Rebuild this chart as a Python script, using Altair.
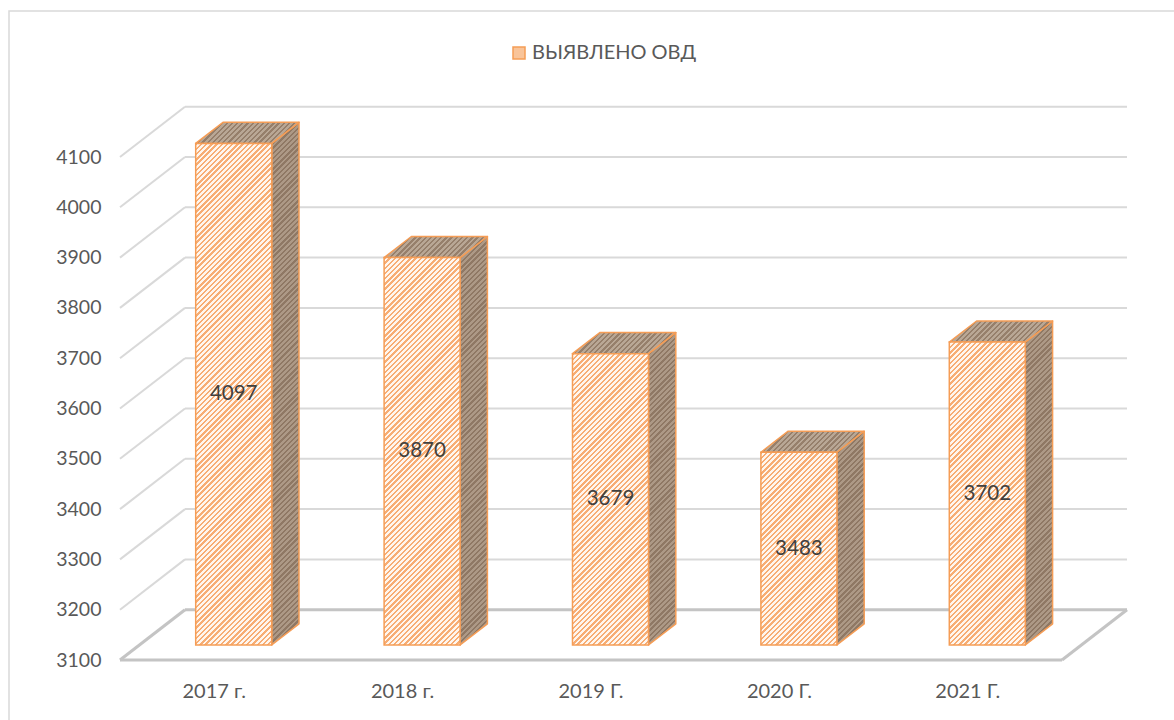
import altair as alt
import pandas as pd

# ---- data ----
categories = ["2017 г.", "2018 г.", "2019 Г.", "2020 Г.", "2021 Г."]
values = [4097, 3870, 3679, 3483, 3702]
tick_values = [3100, 3200, 3300, 3400, 3500, 3600, 3700, 3800, 3900, 4000, 4100]
series_name = "ВЫЯВЛЕНО ОВД"

# ---- layout / 3D geometry (pixels per unit) ----
W, H = 1007, 560
XU = 188.4            # px per category slot
YU = 0.503            # px per value unit
BASE = 3100
XMAX = W / XU
YMAX = BASE + H / YU
DX = 65 / XU          # full depth shift (x units)
DY = 100              # full depth shift (value units)
D0 = 0.3              # depth of bar front face
BD = 0.42             # bar depth
HW = 38 / XU          # half bar width

FONT = "Lato"
TXT = "#595959"
ORANGE = "#f59d56"

xs = alt.Scale(domain=[0, XMAX], nice=False, zero=False)
ys = alt.Scale(domain=[BASE, YMAX], nice=False, zero=False)
yaxis = alt.Axis(values=tick_values, format="d", title=None, grid=False, domain=False,
                 ticks=False, labelPadding=19, labelFont=FONT, labelFontSize=19.5,
                 labelColor=TXT)


def stripes(w, h, fg, bg, period=5.2, frac=0.45):
    n = max(1, int(round((w + h) / period)))
    k = (w + h) / (w * w + h * h)
    stops = []
    for j in range(n):
        a, b, c = j / n, (j + frac) / n, (j + 1) / n
        stops += [{"offset": a, "color": fg}, {"offset": b, "color": fg},
                  {"offset": b, "color": bg}, {"offset": min(c, 1.0), "color": bg}]
    return {"gradient": "linear", "x1": 0, "y1": 0, "x2": w * k, "y2": h * k, "stops": stops}


layers = []

# frame around the chart
frame = alt.Chart(pd.DataFrame({"a": [0]})).mark_rect(
    fill=None, stroke="#d9d9d9", strokeWidth=1.5
).encode(x=alt.value(-111), x2=alt.value(1200), y=alt.value(-89), y2=alt.value(700))
layers.append(frame)

# grid lines (back wall + left side wall)
grid_rows = []
for v in tick_values[1:]:
    grid_rows.append({"x": DX, "x2": XMAX, "y": v + DY, "y2": v + DY})
    grid_rows.append({"x": 0, "x2": DX, "y": v, "y2": v + DY})
grid = alt.Chart(pd.DataFrame(grid_rows)).mark_rule(color="#d9d9d9", strokeWidth=2).encode(
    x=alt.X("x:Q", scale=xs, axis=None), x2="x2:Q",
    y=alt.Y("y:Q", scale=ys, axis=yaxis), y2="y2:Q")
layers.append(grid)

# floor outline
n = len(categories)
floor_rows = [
    {"x": 0, "x2": n, "y": BASE, "y2": BASE},
    {"x": n, "x2": XMAX, "y": BASE, "y2": BASE + DY},
    {"x": DX, "x2": XMAX, "y": BASE + DY, "y2": BASE + DY},
    {"x": 0, "x2": DX, "y": BASE, "y2": BASE + DY},
]
floor = alt.Chart(pd.DataFrame(floor_rows)).mark_rule(color="#c4c4c4", strokeWidth=3).encode(
    x=alt.X("x:Q", scale=xs, axis=None), x2="x2:Q",
    y=alt.Y("y:Q", scale=ys, axis=yaxis), y2="y2:Q")
layers.append(floor)

# bars as 3D boxes
bx, bdy = BD * DX, BD * DY
for i, (cat, v) in enumerate(zip(categories, values)):
    cx = i + 0.5 + D0 * DX
    l, r = cx - HW, cx + HW
    yb, yt = BASE + D0 * DY, v + D0 * DY
    side = pd.DataFrame({"x": [r, r + bx], "y": [yb, yb + bdy], "y2": [yt, yt + bdy]})
    top = pd.DataFrame({"x": [l, l + bx, r, r + bx],
                        "y": [yt, yt, yt, yt + bdy],
                        "y2": [yt, yt + bdy, yt + bdy, yt + bdy]})
    front = pd.DataFrame({"x": [l], "x2": [r], "y": [yb], "y2": [yt]})

    wpx_side = bx * XU
    hpx_side = (yt - yb) * YU + bdy * YU
    layers.append(alt.Chart(side).mark_area(
        orient="vertical", fill=stripes(wpx_side, hpx_side, "#8f7864", "#ad9986"),
        stroke=ORANGE, strokeWidth=1.5, strokeJoin="round").encode(
        x=alt.X("x:Q", scale=xs, axis=None),
        y=alt.Y("y:Q", scale=ys, axis=yaxis), y2="y2:Q"))
    layers.append(alt.Chart(top).mark_area(
        orient="vertical", fill=stripes((2 * HW + bx) * XU, bdy * YU, "#967f6b", "#b9a795"),
        stroke=ORANGE, strokeWidth=1.5, strokeJoin="round").encode(
        x=alt.X("x:Q", scale=xs, axis=None),
        y=alt.Y("y:Q", scale=ys, axis=yaxis), y2="y2:Q"))
    layers.append(alt.Chart(front).mark_rect(
        fill=stripes(2 * HW * XU, (yt - yb) * YU, "#f7ad74", "#fff6ee"),
        stroke=ORANGE, strokeWidth=1.5).encode(
        x=alt.X("x:Q", scale=xs, axis=None), x2="x2:Q",
        y=alt.Y("y:Q", scale=ys, axis=yaxis), y2="y2:Q"))

# value labels in bars
lab = pd.DataFrame({
    "x": [i + 0.5 + D0 * DX for i in range(n)],
    "y": [(BASE + v) / 2 + D0 * DY for v in values],
    "t": [str(v) for v in values],
})
layers.append(alt.Chart(lab).mark_text(font=FONT, fontSize=20.5, color="#404040",
                                       baseline="middle", align="center").encode(
    x=alt.X("x:Q", scale=xs, axis=None), y=alt.Y("y:Q", scale=ys, axis=yaxis), text="t:N"))

# category labels
catdf = pd.DataFrame({"x": [i + 0.5 for i in range(n)], "y": [BASE] * n, "t": categories})
layers.append(alt.Chart(catdf).mark_text(font=FONT, fontSize=20, color=TXT, dy=32,
                                         baseline="middle", align="center").encode(
    x=alt.X("x:Q", scale=xs, axis=None), y=alt.Y("y:Q", scale=ys, axis=yaxis), text="t:N"))

# legend (from an invisible mark)
legdf = pd.DataFrame({"s": [series_name], "x": [0], "y": [BASE]})
layers.append(alt.Chart(legdf).mark_square(opacity=0).encode(
    x=alt.X("x:Q", scale=xs, axis=None), y=alt.Y("y:Q", scale=ys, axis=yaxis),
    fill=alt.Fill("s:N", scale=alt.Scale(range=["#f9c499"]),
                  legend=alt.Legend(title=None, orient="none", legendX=389, legendY=-57,
                                    direction="horizontal", symbolType="square",
                                    symbolSize=144, symbolOpacity=1,
                                    symbolStrokeColor=ORANGE, symbolStrokeWidth=1.5,
                                    labelFont=FONT, labelFontSize=20, labelColor=TXT,
                                    labelOffset=3, labelLimit=500, padding=0))))

chart = alt.layer(*layers).properties(
    width=W, height=H,
    autosize=alt.AutoSizeParams(type="none"),
    padding={"left": 120, "top": 100, "right": 47, "bottom": 60},
    background="white",
).configure_view(stroke=None)

chart.save("out.html", embed_options={"renderer": "svg", "actions": False})
